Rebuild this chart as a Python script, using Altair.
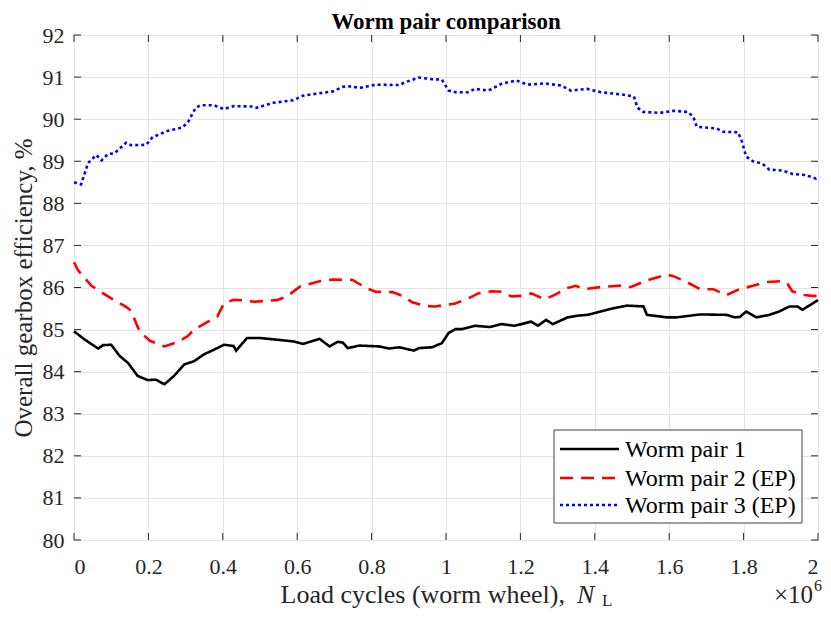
import altair as alt
import pandas as pd

# ---- data (x in millions of load cycles, y in %) ----
series_names = ["Worm pair 1", "Worm pair 2 (EP)", "Worm pair 3 (EP)"]

wp1_x = [0, 0.029, 0.065, 0.078, 0.1, 0.123, 0.145, 0.171, 0.198, 0.22, 0.243, 0.269, 0.296, 0.323,
         0.349, 0.376, 0.403, 0.429, 0.436, 0.465, 0.5, 0.589, 0.616, 0.66, 0.687, 0.709, 0.723, 0.736,
         0.767, 0.82, 0.847, 0.874, 0.914, 0.927, 0.963, 0.989, 1.007, 1.025, 1.043, 1.078, 1.118, 1.149,
         1.185, 1.229, 1.247, 1.269, 1.287, 1.327, 1.354, 1.38, 1.416, 1.452, 1.487, 1.531, 1.54, 1.594,
         1.62, 1.683, 1.754, 1.776, 1.79, 1.807, 1.834, 1.869, 1.896, 1.923, 1.945, 1.958, 1.98, 2.0]
wp1_y = [84.96, 84.76, 84.55, 84.63, 84.64, 84.37, 84.21, 83.9, 83.8, 83.81, 83.7, 83.9, 84.17, 84.25,
         84.41, 84.52, 84.64, 84.61, 84.5, 84.8, 84.8, 84.72, 84.66, 84.78, 84.6, 84.71, 84.69, 84.56,
         84.62, 84.6, 84.55, 84.58, 84.5, 84.56, 84.58, 84.68, 84.92, 85.01, 85.01, 85.09, 85.06, 85.13,
         85.09, 85.19, 85.09, 85.23, 85.13, 85.29, 85.33, 85.35, 85.43, 85.51, 85.57, 85.55, 85.35, 85.29,
         85.29, 85.36, 85.35, 85.29, 85.3, 85.43, 85.29, 85.35, 85.43, 85.55, 85.55, 85.47, 85.59, 85.7]

wp2_x = [0, 0.011, 0.047, 0.1, 0.14, 0.154, 0.167, 0.176, 0.203, 0.243, 0.278, 0.305, 0.323, 0.358,
         0.385, 0.403, 0.429, 0.465, 0.483, 0.545, 0.571, 0.607, 0.66, 0.696, 0.749, 0.785, 0.811, 0.856,
         0.883, 0.909, 0.945, 0.971, 1.025, 1.06, 1.087, 1.123, 1.149, 1.176, 1.203, 1.229, 1.265, 1.291,
         1.327, 1.349, 1.371, 1.416, 1.478, 1.496, 1.54, 1.594, 1.611, 1.647, 1.683, 1.718, 1.754, 1.789,
         1.825, 1.86, 1.905, 1.918, 1.931, 1.963, 1.985, 2.0]
wp2_y = [86.6, 86.41, 86.04, 85.74, 85.54, 85.44, 85.15, 84.96, 84.74, 84.6, 84.7, 84.84, 85.0, 85.18,
         85.31, 85.62, 85.71, 85.69, 85.66, 85.7, 85.78, 86.02, 86.15, 86.19, 86.18, 85.99, 85.9, 85.89,
         85.8, 85.65, 85.56, 85.55, 85.62, 85.74, 85.86, 85.91, 85.9, 85.79, 85.8, 85.86, 85.72, 85.82,
         85.99, 86.04, 85.96, 86.01, 86.05, 86.01, 86.17, 86.31, 86.27, 86.13, 85.96, 85.96, 85.82, 85.96,
         86.04, 86.13, 86.15, 86.09, 85.91, 85.82, 85.8, 85.8]

wp3_x = [0, 0.019, 0.038, 0.06, 0.074, 0.091, 0.109, 0.14, 0.154, 0.194, 0.211, 0.251, 0.291, 0.307,
         0.327, 0.34, 0.376, 0.403, 0.429, 0.478, 0.491, 0.536, 0.589, 0.616, 0.696, 0.723, 0.745, 0.767,
         0.811, 0.874, 0.891, 0.927, 0.963, 0.989, 1.007, 1.025, 1.06, 1.078, 1.114, 1.149, 1.189, 1.22,
         1.265, 1.309, 1.336, 1.38, 1.416, 1.469, 1.505, 1.515, 1.531, 1.576, 1.611, 1.651, 1.665, 1.674,
         1.727, 1.745, 1.785, 1.794, 1.807, 1.825, 1.851, 1.869, 1.905, 1.931, 1.967, 1.994, 2.0]
wp3_y = [88.5, 88.45, 88.96, 89.15, 89.02, 89.17, 89.19, 89.44, 89.38, 89.39, 89.57, 89.72, 89.8, 89.94,
         90.27, 90.33, 90.33, 90.24, 90.31, 90.3, 90.27, 90.39, 90.45, 90.56, 90.66, 90.77, 90.78, 90.74,
         90.82, 90.81, 90.88, 90.99, 90.95, 90.94, 90.68, 90.64, 90.64, 90.72, 90.68, 90.84, 90.92, 90.82,
         90.85, 90.8, 90.68, 90.72, 90.64, 90.59, 90.54, 90.27, 90.17, 90.15, 90.2, 90.17, 90.05, 89.82,
         89.78, 89.7, 89.69, 89.51, 89.11, 89.0, 88.94, 88.8, 88.78, 88.7, 88.67, 88.59, 88.62]

x_ticks = [0, 0.2, 0.4, 0.6, 0.8, 1.0, 1.2, 1.4, 1.6, 1.8, 2.0]
y_ticks = list(range(80, 93))

series_colors = ["#000000", "#ff0000", "#0000ff"]
series_dashes = [[1, 0], [13, 8], [3, 3]]

# ---- tables ----
frames = []
for name, xs, ys in zip(series_names, [wp1_x, wp2_x, wp3_x], [wp1_y, wp2_y, wp3_y]):
    frames.append(pd.DataFrame({"cycles": xs, "eff": ys, "series": name, "order": range(len(xs))}))
df = pd.concat(frames, ignore_index=True)

FONT = "Liberation Serif"
TXT = "#262626"
W, H = 744, 505

xscale = alt.Scale(domain=[0, 2], nice=False, zero=False)
yscale = alt.Scale(domain=[80, 92], nice=False, zero=False)

xaxis = alt.Axis(values=x_ticks, format="~g", title=None, grid=True,
                 gridColor="#e3e3e3", tickSize=0, domain=False,
                 labelFont=FONT, labelFontSize=22, labelColor=TXT, labelPadding=16)
yaxis = alt.Axis(values=y_ticks, title="Overall gearbox efficiency, %", grid=True,
                 gridColor="#e3e3e3", tickSize=0, domain=False,
                 labelFont=FONT, labelFontSize=22, labelColor=TXT, labelPadding=10,
                 titleFont=FONT, titleFontSize=25, titleFontWeight="normal",
                 titleColor=TXT, titlePadding=6)

lines = alt.Chart(df).mark_line(strokeWidth=2.6).encode(
    x=alt.X("cycles:Q", scale=xscale, axis=xaxis),
    y=alt.Y("eff:Q", scale=yscale, axis=yaxis),
    color=alt.Color("series:N", scale=alt.Scale(domain=series_names, range=series_colors),
                    legend=None),
    strokeDash=alt.StrokeDash("series:N", scale=alt.Scale(domain=series_names, range=series_dashes),
                              legend=None),
    order="order:Q",
)

# inward MATLAB-style ticks on all four sides
ydf = pd.DataFrame({"eff": y_ticks})
xdf = pd.DataFrame({"cycles": x_ticks})
tick_style = dict(color=TXT, strokeWidth=1)
yt_left = alt.Chart(ydf).mark_rule(**tick_style).encode(
    y=alt.Y("eff:Q", scale=yscale, axis=yaxis), x=alt.value(0), x2=alt.value(7))
yt_right = alt.Chart(ydf).mark_rule(**tick_style).encode(
    y=alt.Y("eff:Q", scale=yscale, axis=yaxis), x=alt.value(W - 7), x2=alt.value(W))
xt_bottom = alt.Chart(xdf).mark_rule(**tick_style).encode(
    x=alt.X("cycles:Q", scale=xscale, axis=xaxis), y=alt.value(H - 7), y2=alt.value(H))
xt_top = alt.Chart(xdf).mark_rule(**tick_style).encode(
    x=alt.X("cycles:Q", scale=xscale, axis=xaxis), y=alt.value(0), y2=alt.value(7))


def txt(s, x, y, size, align="left", style="normal", weight="normal", color=TXT, baseline="alphabetic"):
    return alt.Chart(pd.DataFrame({"t": [s]})).mark_text(
        font=FONT, fontSize=size, align=align, baseline=baseline,
        color=color, fontStyle=style, fontWeight=weight,
    ).encode(text="t:N", x=alt.value(x), y=alt.value(y))


title = txt("Worm pair comparison", W / 2, -6, 23, align="center", weight="bold", color="#000000")
xlabel_main = txt("Load cycles (worm wheel),", 491, 568, 26, align="right")
xlabel_n = txt("N", 503, 568, 26, style="italic")
xlabel_sub = txt("L", 528, 571, 17)
exp_base = txt("×10", 739, 568, 25, align="right")
exp_sup = txt("6", 740, 556, 16)

# legend box (MATLAB style)
leg_box = alt.Chart(pd.DataFrame({"t": [0]})).mark_rect(
    fill="white", stroke="#404040", strokeWidth=1
).encode(x=alt.value(480), x2=alt.value(728), y=alt.value(395), y2=alt.value(488))
row_y = [414, 443, 470]
leg_layers = [leg_box]
for name, col, dash, ry in zip(series_names, series_colors, series_dashes, row_y):
    leg_layers.append(
        alt.Chart(pd.DataFrame({"t": [name]})).mark_rule(
            color=col, strokeDash=dash, strokeWidth=2.6
        ).encode(x=alt.value(486), x2=alt.value(545), y=alt.value(ry))
    )
    leg_layers.append(txt(name, 551, ry + 8, 24, color="#000000"))

chart = alt.layer(
    lines, yt_left, yt_right, xt_bottom, xt_top, title,
    xlabel_main, xlabel_n, xlabel_sub, exp_base, exp_sup, *leg_layers,
).properties(
    width=W, height=H,
    autosize=alt.AutoSizeParams(type="none"),
    padding={"left": 66, "top": 27, "right": 5, "bottom": 70},
).configure_view(
    stroke="#404040", strokeWidth=1
).configure(background="white")

chart.save("out.html", embed_options={"renderer": "svg", "actions": False})
